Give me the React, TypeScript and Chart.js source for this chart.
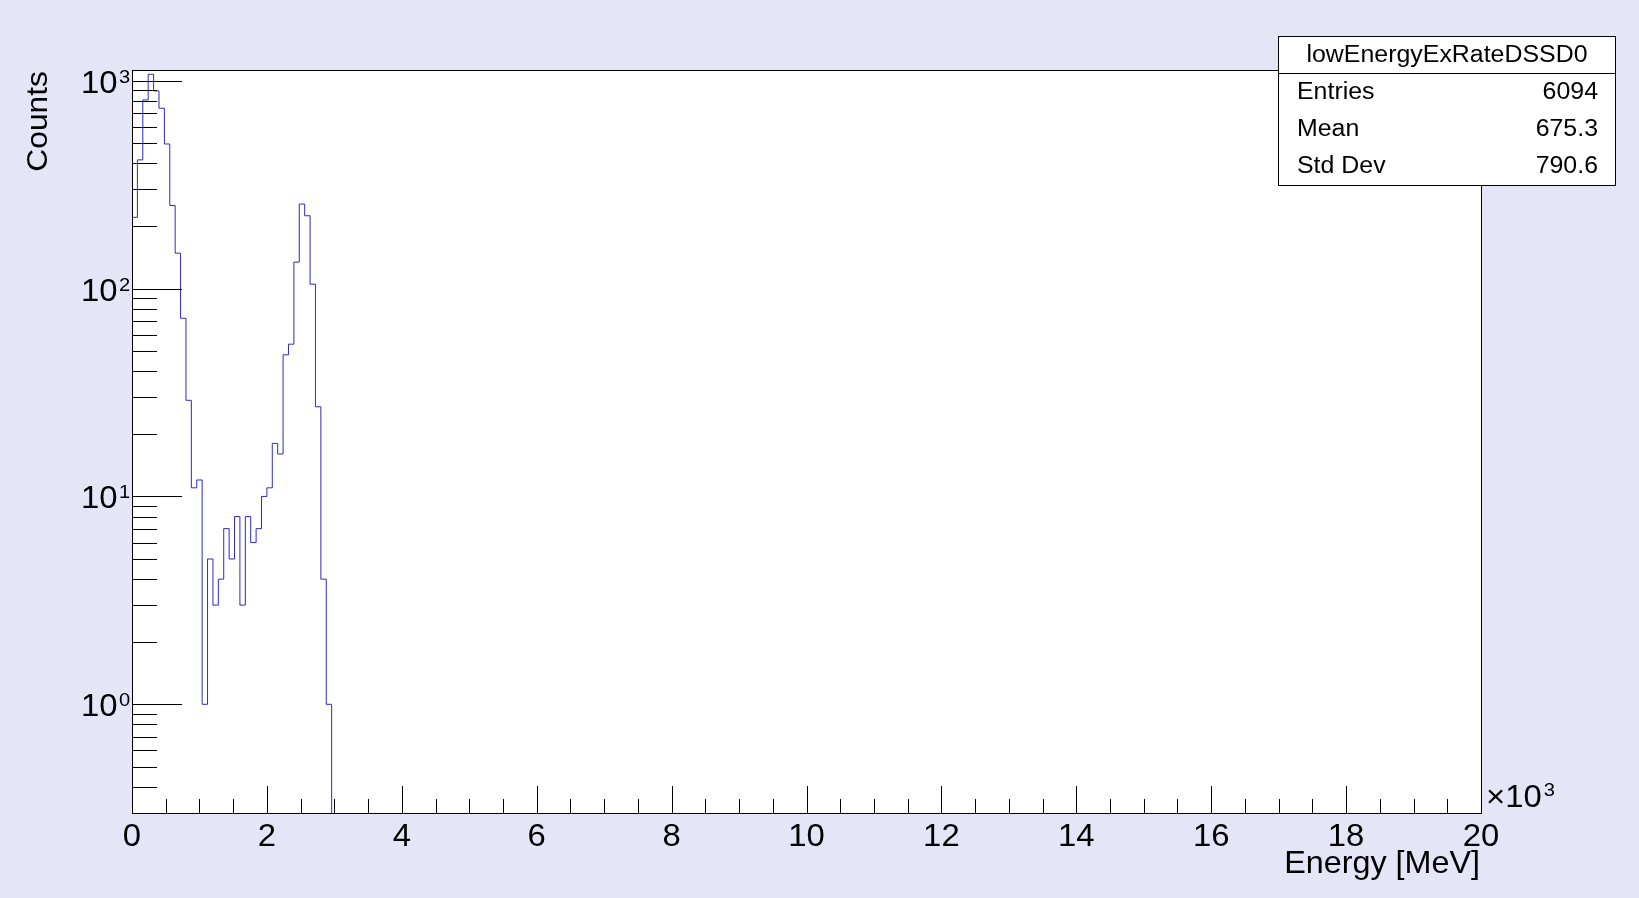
import { useEffect, useRef } from "react"
import { Chart, registerables } from "chart.js"

Chart.register(...registerables)

// histogram lowEnergyExRateDSSD0: 250 bins of 80 keV from 0 to 20000, only the first 37 are filled
const BIN_WIDTH = 80
const counts = [
  220, 416, 808, 1073, 893, 737, 496, 251, 148, 72,
  29, 11, 12, 1, 5, 3, 4, 7, 5, 8,
  3, 8, 6, 7, 10, 11, 18, 16, 48, 54,
  134, 255, 224, 105, 27, 4, 1,
]
const xMajorTicks = [0, 2000, 4000, 6000, 8000, 10000, 12000, 14000, 16000, 18000, 20000]
const yDecades = [-1, 0, 1, 2, 3]
const statLabels = ["Entries", "Mean", "Std Dev"]
const statValues = ["6094", "675.3", "790.6"]

const X_MIN = 0
const X_MAX = 20000
const Y_MIN = 0.3038
const Y_MAX = 1125.6
const FLOOR = 0.1

const BG = "#e5e5f8"
const LINE = "#2c2cbc"
const FONT = '"Liberation Sans", Arial, sans-serif'
const STRETCH = 1.06 // ROOT's text comes out a little wider than Liberation Sans

function text(
  c: CanvasRenderingContext2D,
  s: string,
  x: number,
  y: number,
  size: number,
  align: CanvasTextAlign,
) {
  c.save()
  c.font = `${size}px ${FONT}`
  c.textAlign = align
  c.textBaseline = "alphabetic"
  c.translate(x, y)
  c.scale(STRETCH, 1)
  c.fillText(s, 0, 0)
  const w = c.measureText(s).width * STRETCH
  c.restore()
  return w
}

export default function App() {
  const chartRef = useRef<HTMLCanvasElement>(null)
  const chartInstance = useRef<Chart | null>(null)

  useEffect(() => {
    if (!chartRef.current) return
    if (chartInstance.current) chartInstance.current.destroy()
    const ctx = chartRef.current.getContext("2d")
    if (!ctx) return

    // step outline: left edge of every bin, closed down to the floor at both ends
    const points: { x: number; y: number }[] = [{ x: 0, y: FLOOR }]
    counts.forEach((c, i) => points.push({ x: i * BIN_WIDTH, y: c }))
    points.push({ x: counts.length * BIN_WIDTH, y: FLOOR })

    const rootStyle = {
      id: "rootStyle",
      beforeDraw(chart: Chart) {
        const c = chart.ctx
        const a = chart.chartArea
        c.save()
        c.fillStyle = BG
        c.fillRect(0, 0, chart.width, chart.height)
        c.fillStyle = "#ffffff"
        c.fillRect(a.left, a.top, a.right - a.left, a.bottom - a.top)
        c.restore()
      },
      afterDraw(chart: Chart) {
        const c = chart.ctx
        const a = chart.chartArea
        const xs = chart.scales.x
        const ys = chart.scales.y
        c.save()
        c.strokeStyle = "#000"
        c.lineWidth = 1

        // x ticks (inside the frame), major every 2000, minor every 500
        c.beginPath()
        for (let v = X_MIN; v <= X_MAX; v += 500) {
          const px = Math.round(xs.getPixelForValue(v)) + 0.5
          const len = v % 2000 === 0 ? 27 : 14
          c.moveTo(px, a.bottom)
          c.lineTo(px, a.bottom - len)
        }
        // y ticks, log decades
        yDecades.forEach((d) => {
          for (let m = 1; m <= 9; m++) {
            const v = m * Math.pow(10, d)
            if (v < Y_MIN || v > Y_MAX) continue
            const py = Math.round(ys.getPixelForValue(v)) + 0.5
            const len = m === 1 ? 50 : 25
            c.moveTo(a.left, py)
            c.lineTo(a.left + len, py)
          }
        })
        c.stroke()

        // frame
        c.strokeRect(Math.round(a.left) + 0.5, Math.round(a.top) + 0.5, Math.round(a.right - a.left), Math.round(a.bottom - a.top))

        c.fillStyle = "#000"
        // x labels
        xMajorTicks.forEach((v) => {
          text(c, String(v / 1000), xs.getPixelForValue(v), 846, 31, "center")
        })
        // x10^3
        const w = text(c, "\u00d710", a.right + 5, 807, 31, "left")
        text(c, "3", a.right + 7 + w, 796, 19, "left")

        // y labels 10^d
        yDecades.forEach((d) => {
          const v = Math.pow(10, d)
          if (v < Y_MIN || v > Y_MAX) return
          const py = ys.getPixelForValue(v)
          text(c, "10", a.left - 14.5, py + 12, 31, "right")
          text(c, String(d), a.left - 13, py + 2, 19, "left")
        })

        // axis titles
        text(c, "Energy [MeV]", a.right - 1, 873, 30.5, "right")
        c.save()
        c.translate(47, a.top + 1)
        c.rotate(-Math.PI / 2)
        text(c, "Counts", 0, 0, 30, "right")
        c.restore()

        // stats box
        const bx = 1278.5
        const by = 36.5
        const bw = 337
        const bh = 149
        c.fillStyle = "#ffffff"
        c.fillRect(bx, by, bw, bh)
        c.strokeRect(bx, by, bw, bh)
        c.beginPath()
        c.moveTo(bx, 73.5)
        c.lineTo(bx + bw, 73.5)
        c.stroke()
        c.fillStyle = "#000"
        text(c, "lowEnergyExRateDSSD0", bx + bw / 2, 62, 23.5, "center")
        statLabels.forEach((lab, i) => {
          const base = 99 + i * 37.2
          text(c, lab, 1297, base, 23.5, "left")
          text(c, statValues[i], 1598, base, 23.5, "right")
        })
        c.restore()
      },
    }

    chartInstance.current = new Chart(ctx, {
      type: "line",
      data: {
        datasets: [
          {
            label: "lowEnergyExRateDSSD0",
            data: points,
            stepped: "before",
            borderColor: LINE,
            borderWidth: 1,
            pointRadius: 0,
            fill: false,
            tension: 0,
          },
        ],
      },
      options: {
        responsive: false,
        animation: false,
        devicePixelRatio: 1,
        parsing: false,
        normalized: true,
        layout: { padding: { left: 132, top: 70, right: 158, bottom: 85 } },
        scales: {
          x: { type: "linear", min: X_MIN, max: X_MAX, display: false },
          y: { type: "logarithmic", min: Y_MIN, max: Y_MAX, display: false },
        },
        plugins: {
          legend: { display: false },
          tooltip: { enabled: false },
        },
      },
      plugins: [rootStyle],
    })

    return () => {
      if (chartInstance.current) {
        chartInstance.current.destroy()
        chartInstance.current = null
      }
    }
  }, [])

  return (
    <div style={{ position: "fixed", left: 0, top: 0, width: 1639, height: 898, background: BG }}>
      <canvas ref={chartRef} width={1639} height={898} />
    </div>
  )
}
